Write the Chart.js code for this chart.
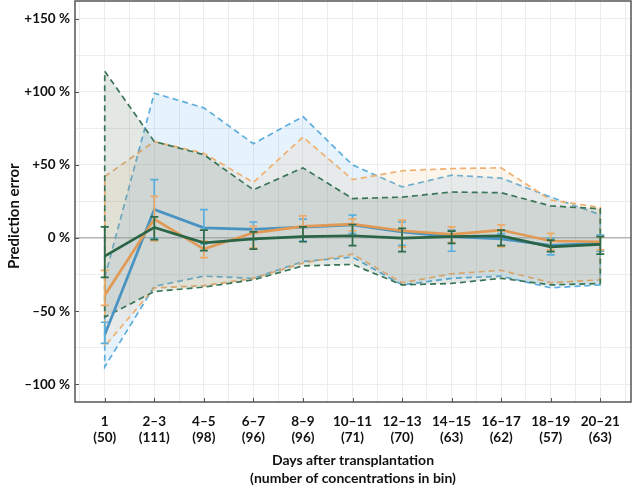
<!DOCTYPE html>
<html>
<head>
<meta charset="utf-8">
<script src="https://cdn.jsdelivr.net/npm/chart.js@4.4.1/dist/chart.umd.min.js"></script>
<style>
  html, body { margin: 0; padding: 0; background: #fff; }
  #wrap { width: 632px; height: 485px; }
</style>
</head>
<body>
<div id="wrap"><canvas id="peChart" width="632" height="485"></canvas></div>
<script>
// 구간(일) 및 구간별 농도 개수
const dayBins = ["1", "2–3", "4–5", "6–7", "8–9", "10–11", "12–13", "14–15", "16–17", "18–19", "20–21"];
const binCounts = [50, 111, 98, 96, 96, 71, 70, 63, 62, 57, 63];
const yLabelTicks = [-100, -50, 0, 50, 100, 150];

// 파란 모델: 평균, 오차막대, 예측구간
const blueMean = [-66, 19.5, 7, 6, 7.5, 9, 4.3, 1, -0.5, -5, -3.6];
const blueHi = [-57.5, 40, 19.5, 11, 13, 15.7, 11, 5.5, 3, 0, 2];
const blueLo = [-72, 0, -4, -1, -2, 3, -5, -9, -5, -11.5, -9];
const blueUpper = [-27, 99, 89, 64.5, 83, 50, 35, 43, 41, 28, 16];
const blueLower = [-88, -33, -26, -27.5, -16, -13, -32, -27.5, -26, -34, -32];

// 주황 모델
const orangeMean = [-39, 13, -7.5, 3.6, 8, 9.5, 5, 2.5, 5.5, -2, -2.5];
const orangeHi = [-22, 28.5, -2, 8, 15.2, 13, 12.3, 7.7, 9, 3.2, 1];
const orangeLo = [-46, -2, -13.4, -6.8, 1, 5, -6, -3, -6, -8, -8];
const orangeUpper = [42, 66, 58, 38, 69, 40, 46, 47.5, 48, 26, 21];
const orangeLower = [-74, -34, -32.5, -27.5, -17, -11, -30.5, -24.5, -22, -30.5, -28.5];

// 초록 모델
const greenMean = [-12.3, 7.3, -3.2, -0.5, 1, 1.6, 0, 1, 1.5, -6, -4.3];
const greenHi = [7.7, 14.5, 5.5, 4.3, 7.7, 9.3, 6.6, 4.8, 5.5, -1.4, 1];
const greenLo = [-26.8, -1, -8.6, -7.5, -2.5, -5.2, -9.3, -3.6, -5.2, -9.3, -11];
const greenUpper = [114, 66, 57, 33, 48, 27, 28, 31.5, 31, 22, 20];
const greenLower = [-54, -36.5, -33.5, -28.5, -19, -18, -32, -31, -27.5, -32, -31];

const FONT = "Lato, 'DejaVu Sans', sans-serif";
const Y_TITLE = "Prediction error";

// 상한선 → 하한선(역순)으로 닫힌 다각형 만들기
function bandPolygon(upper, lower) {
  const pts = upper.map((v, i) => ({ x: i, y: v }));
  for (let i = lower.length - 1; i >= 0; i--) pts.push({ x: i, y: lower[i] });
  pts.push({ x: 0, y: upper[0] });
  return pts;
}

function meanPoints(values) {
  return values.map((v, i) => ({ x: i, y: v }));
}

function bandDataset(upper, lower, stroke, fillColor, order) {
  return {
    data: bandPolygon(upper, lower),
    showLine: true,
    fill: "shape",
    backgroundColor: fillColor,
    borderColor: stroke,
    borderWidth: 1.7,
    borderDash: [6, 4],
    pointRadius: 0,
    tension: 0,
    order: order,
  };
}

function meanDataset(values, hi, lo, lineColor, barColor, order) {
  return {
    data: meanPoints(values),
    showLine: true,
    fill: false,
    borderColor: lineColor,
    borderWidth: 2.7,
    pointRadius: 0,
    tension: 0,
    order: order,
    errHi: hi,
    errLo: lo,
    errColor: barColor,
  };
}

// 오차막대 그리기
const errorBarPlugin = {
  id: "errorBars",
  afterDatasetDraw(chart, args) {
    const ds = chart.data.datasets[args.index];
    if (!ds.errHi) return;
    const ctx = chart.ctx;
    const xs = chart.scales.x;
    const ys = chart.scales.y;
    ctx.save();
    ctx.strokeStyle = ds.errColor;
    ctx.lineWidth = 1.7;
    ds.errHi.forEach((h, i) => {
      const px = xs.getPixelForValue(i);
      const top = ys.getPixelForValue(h);
      const bot = ys.getPixelForValue(ds.errLo[i]);
      ctx.beginPath();
      ctx.moveTo(px, top);
      ctx.lineTo(px, bot);
      ctx.moveTo(px - 4, top);
      ctx.lineTo(px + 4, top);
      ctx.moveTo(px - 4, bot);
      ctx.lineTo(px + 4, bot);
      ctx.stroke();
    });
    ctx.restore();
  },
};

// 테두리 상자, 안쪽 눈금, 세로축 제목
const framePlugin = {
  id: "frame",
  afterDraw(chart) {
    const { ctx, chartArea: a } = chart;
    const xs = chart.scales.x;
    const ys = chart.scales.y;
    ctx.save();
    ctx.strokeStyle = "#555";
    ctx.lineWidth = 1.5;
    ctx.strokeRect(a.left, a.top, a.right - a.left, a.bottom - a.top);
    ctx.lineWidth = 1;
    ctx.beginPath();
    dayBins.forEach((_, i) => {
      const px = Math.round(xs.getPixelForValue(i)) + 0.5;
      ctx.moveTo(px, a.bottom);
      ctx.lineTo(px, a.bottom - 4);
    });
    yLabelTicks.forEach((v) => {
      const py = Math.round(ys.getPixelForValue(v)) + 0.5;
      ctx.moveTo(a.left, py);
      ctx.lineTo(a.left + 4, py);
    });
    ctx.stroke();

    // 세로축 제목 (0 % 선보다 조금 위쪽 중심)
    ctx.translate(14, ys.getPixelForValue(15));
    ctx.rotate(-Math.PI / 2);
    ctx.fillStyle = "#111";
    ctx.font = "bold 15px " + FONT;
    ctx.textAlign = "center";
    ctx.textBaseline = "middle";
    ctx.fillText(Y_TITLE, 0, 0);
    ctx.restore();
  },
};

const chart = new Chart(document.getElementById("peChart").getContext("2d"), {
  type: "scatter",
  data: {
    datasets: [
      bandDataset(blueUpper, blueLower, "#5eaedc", "rgba(140,195,240,0.22)", 30),
      bandDataset(orangeUpper, orangeLower, "#efb171", "rgba(235,185,125,0.15)", 20),
      bandDataset(greenUpper, greenLower, "#3b7558", "rgba(80,115,95,0.16)", 10),
      meanDataset(blueMean, blueHi, blueLo, "#4893c2", "#5aaedb", 3),
      meanDataset(orangeMean, orangeHi, orangeLo, "#e09a55", "#eeaa66", 2),
      meanDataset(greenMean, greenHi, greenLo, "#2a6446", "#2e6b4b", 1),
    ],
  },
  options: {
    responsive: false,
    devicePixelRatio: 1,
    animation: false,
    layout: { padding: { top: 1, right: 1, left: 0, bottom: 0 } },
    plugins: {
      legend: { display: false },
      tooltip: { enabled: false },
    },
    scales: {
      x: {
        type: "linear",
        min: -0.6,
        max: 10.62,
        afterFit: (scale) => {
          scale.height = 83;
          scale.paddingLeft = 0;
          scale.paddingRight = 0;
        },
        afterBuildTicks: (scale) => {
          const t = [];
          for (let v = -0.5; v <= 10.5; v += 0.5) t.push({ value: v });
          scale.ticks = t;
        },
        grid: {
          color: "#ececec",
          lineWidth: 1,
          drawTicks: false,
        },
        border: { display: false },
        ticks: {
          autoSkip: false,
          maxRotation: 0,
          padding: 12,
          color: "#111",
          font: { family: FONT, size: 13.5, weight: "bold", lineHeight: 1.15 },
          callback: (v) => {
            if (!Number.isInteger(v)) return "";
            return [dayBins[v], "(" + binCounts[v] + ")"];
          },
        },
        title: {
          display: true,
          text: ["Days after transplantation", "(number of concentrations in bin)"],
          color: "#111",
          font: { family: FONT, size: 14, weight: "bold", lineHeight: 1.3 },
          padding: { top: 0, bottom: -3 },
        },
      },
      y: {
        min: -112,
        max: 162,
        afterFit: (scale) => {
          scale.width = 75;
          scale.paddingTop = 0;
          scale.paddingBottom = 0;
        },
        afterBuildTicks: (scale) => {
          const t = [];
          for (let v = -100; v <= 150; v += 25) t.push({ value: v });
          scale.ticks = t;
        },
        grid: {
          color: (c) => (c.tick && c.tick.value === 0 ? "#b5b5b5" : "#ececec"),
          lineWidth: (c) => (c.tick && c.tick.value === 0 ? 1.6 : 1),
          drawTicks: false,
        },
        border: { display: false },
        ticks: {
          padding: 5,
          color: "#111",
          font: { family: FONT, size: 13.5, weight: "bold" },
          callback: (v) => {
            if (v % 50 !== 0) return "";
            if (v > 0) return "+" + v + " %";
            if (v < 0) return "–" + Math.abs(v) + " %";
            return "0 %";
          },
        },
        title: { display: false },
      },
    },
  },
  plugins: [errorBarPlugin, framePlugin],
});
</script>
</body>
</html>
